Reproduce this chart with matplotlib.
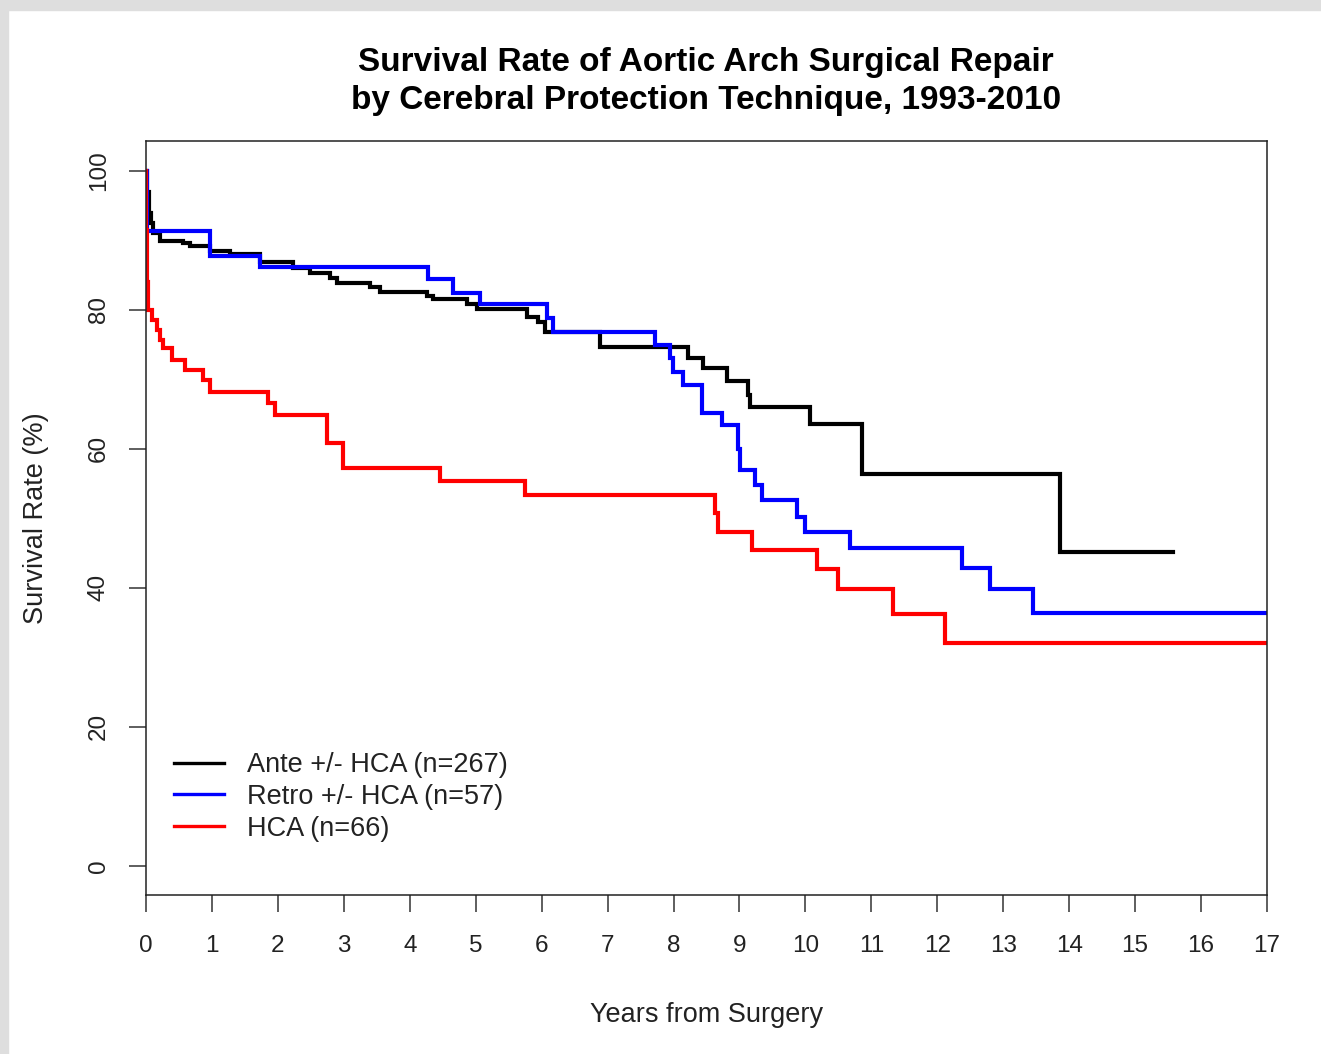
import matplotlib
matplotlib.use("Agg")
import matplotlib.pyplot as plt
from matplotlib.lines import Line2D
from matplotlib.patches import Rectangle

plt.rcParams['font.family'] = ['Liberation Sans', 'DejaVu Sans']

# Kaplan-Meier step data (time in years, survival in %)
ante_t = [0, 0.02, 0.04, 0.07, 0.11, 0.21, 0.56, 0.67, 0.97, 1.27, 1.73, 2.23, 2.49,
          2.79, 2.90, 3.40, 3.55, 4.26, 4.35, 4.87, 5.02, 5.78, 5.95, 6.05, 6.88,
          8.22, 8.45, 8.81, 9.13, 9.16, 10.07, 10.86, 13.86]
ante_s = [100, 97.0, 94.0, 92.5, 91.0, 89.9, 89.6, 89.2, 88.5, 88.0, 86.9, 86.0, 85.3,
          84.6, 83.9, 83.3, 82.6, 82.0, 81.5, 80.8, 80.1, 79.0, 78.2, 76.8, 74.7,
          73.1, 71.6, 69.8, 67.8, 66.0, 63.6, 56.4, 45.1]
ante_end = 15.57

retro_t = [0, 0.01, 0.02, 0.97, 1.73, 4.28, 4.66, 5.07, 6.08, 6.17, 7.72, 7.95, 7.99,
           8.14, 8.43, 8.73, 8.98, 9.01, 9.24, 9.34, 9.87, 9.99, 10.68, 12.37, 12.80, 13.45]
retro_s = [100, 96.5, 91.4, 87.8, 86.2, 84.5, 82.4, 80.9, 78.8, 76.8, 75.0, 73.1, 71.1,
           69.2, 65.2, 63.4, 60.0, 57.0, 54.8, 52.7, 50.2, 48.0, 45.7, 42.8, 39.8, 36.4]
retro_end = 17

hca_t = [0, 0.005, 0.012, 0.02, 0.03, 0.09, 0.17, 0.21, 0.26, 0.39, 0.59, 0.86, 0.97,
         1.85, 1.96, 2.74, 2.99, 4.46, 5.75, 8.63, 8.67, 9.19, 10.18, 10.49, 11.33, 12.12]
hca_s = [100, 91.5, 88.0, 84.0, 80.0, 78.6, 77.1, 75.7, 74.5, 72.8, 71.4, 69.9, 68.2,
         66.6, 64.9, 60.9, 57.3, 55.4, 53.4, 50.8, 48.1, 45.4, 42.7, 39.9, 36.3, 32.1]
hca_end = 17

labels = ["Ante +/- HCA (n=267)", "Retro +/- HCA (n=57)", "HCA (n=66)"]
colors = ["black", "#0000FF", "#FF0000"]

fig = plt.figure(figsize=(13.21, 10.54), dpi=100)

# light gray frame on top and left edge
fig.patches.append(Rectangle((0, 1 - 10 / 1054), 1, 10 / 1054, transform=fig.transFigure,
                             color="#DEDEDE", zorder=-1))
fig.patches.append(Rectangle((0, 0), 8 / 1321, 1, transform=fig.transFigure,
                             color="#DEDEDE", zorder=-1))

ax = fig.add_axes([146 / 1321, 1 - 895 / 1054, (1267 - 146) / 1321, (895 - 141) / 1054])

series = [(ante_t, ante_s, ante_end), (retro_t, retro_s, retro_end), (hca_t, hca_s, hca_end)]
for (t, s, end), col in zip(series, colors):
    ax.step(t + [end], s + [s[-1]], where="post", color=col, lw=3, solid_joinstyle="miter")

ax.set_xlim(0, 17)
ax.set_ylim(-4.2, 104.3)
ax.set_xticks(range(0, 18))
ax.set_yticks(range(0, 101, 20))
ax.tick_params(axis="both", length=12, width=1.1, color="#333333", labelcolor="#222222",
               labelsize=17.5)
ax.tick_params(axis="x", pad=17)
ax.tick_params(axis="y", pad=14)
for lab in ax.get_yticklabels():
    lab.set_rotation(90)
    lab.set_va("center")
for sp in ax.spines.values():
    sp.set_color("#222222")
    sp.set_linewidth(1.1)

ax.set_xlabel("Years from Surgery", fontsize=19.5, color="#222222", labelpad=32)
ax.set_ylabel("Survival Rate (%)", fontsize=19.5, color="#222222", labelpad=28)

fig.text(706 / 1321, 1 - 62 / 1054, "Survival Rate of Aortic Arch Surgical Repair",
         ha="center", va="center", fontsize=24, fontweight="bold")
fig.text(706 / 1321, 1 - 100 / 1054, "by Cerebral Protection Technique, 1993-2010",
         ha="center", va="center", fontsize=24, fontweight="bold")

handles = [Line2D([], [], color=c, lw=2.4) for c in colors]
ax.legend(handles, labels, loc="upper left", bbox_to_anchor=(0.003, 0.222), frameon=False,
          fontsize=19.5, handlelength=1.85, handletextpad=0.85, labelspacing=0.22,
          labelcolor="#222222")

fig.savefig("out.png", dpi=100)
plt.close(fig)
